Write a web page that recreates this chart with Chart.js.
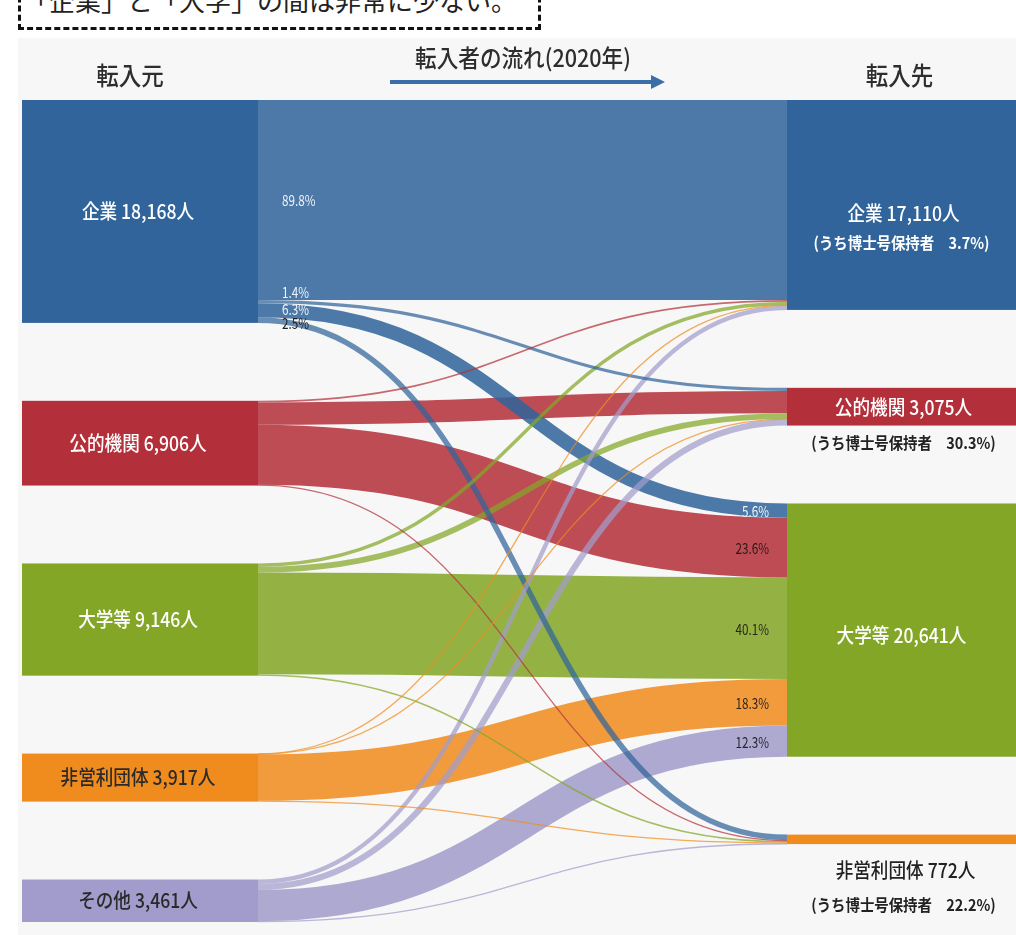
<!DOCTYPE html>
<html lang="ja">
<head>
<meta charset="utf-8">
<script src="https://cdn.jsdelivr.net/npm/chart.js@4"></script>
<style>
  html, body { margin: 0; padding: 0; background: #fff; }
  body { width: 1016px; height: 935px; position: relative; overflow: hidden; font-family: "Noto Sans CJK JP", sans-serif; }
  #note {
    position: absolute; left: 18px; top: -22px; width: 515px; height: 46px;
    border: 3px dashed #111; background: #fff;
    font-size: 26px; line-height: 38px; padding-left: 2px; box-sizing: content-box;
    color: #222; white-space: nowrap; z-index: 2;
  }
  #wrap { position: absolute; left: 18px; top: 38px; width: 998px; height: 897px; background: #f7f7f7; }
</style>
</head>
<body>
<div id="note">「企業」と「大学」の間は非常に少ない。</div>
<div id="wrap"><canvas id="flowChart"></canvas></div>
<script>
// 転入元
const sourceNames = ['企業', '公的機関', '大学等', '非営利団体', 'その他'];
const sourceTotals = [18168, 6906, 9146, 3917, 3461];
// 転入先
const targetNames = ['企業', '公的機関', '大学等', '非営利団体'];
const targetTotals = [17110, 3075, 20641, 772];
const doctorShares = ['3.7%', '30.3%', '', '22.2%'];
// people moving from each source to 企業 / 公的機関 / 大学等 / 非営利団体
const fromCompany   = [16310, 254, 1150, 454];
const fromPublic    = [130, 1826, 4880, 70];
const fromUniv      = [280, 461, 8285, 120];
const fromNonprofit = [35, 30, 3782, 70];
const fromOther     = [355, 504, 2544, 58];
const flowRows = [fromCompany, fromPublic, fromUniv, fromNonprofit, fromOther];

const colors = ['#30649a', '#b3303a', '#84a627', '#f08c1e', '#a19ccb'];
const NODE_GAP = 6350;       // white space between nodes, in people
const LEFT_X = [4, 240];     // node columns on the x scale
const RIGHT_X = [769, 998];

const sum = (arr) => arr.reduce((a, b) => a + b, 0);
const stackStarts = (totals) => {
  let pos = 0;
  return totals.map((t) => { const s = pos; pos += t + NODE_GAP; return s; });
};
const leftStarts = stackStarts(sourceTotals);
const rightStarts = stackStarts(targetTotals);
const span = Math.max(sum(sourceTotals) + (sourceTotals.length - 1) * NODE_GAP,
                      sum(targetTotals) + (targetTotals.length - 1) * NODE_GAP);

const fmt = (n) => n.toLocaleString('en-US');
const pct = (v, total) => (v / total * 100).toFixed(1) + '%';

function rgba(hex, a) {
  const n = parseInt(hex.slice(1), 16);
  return `rgba(${n >> 16}, ${(n >> 8) & 255}, ${n & 255}, ${a})`;
}

function text(ctx, str, x, y, o) {
  ctx.save();
  ctx.font = `${o.weight || 'normal'} ${o.size}px "Noto Sans CJK JP", sans-serif`;
  ctx.fillStyle = o.color;
  ctx.textAlign = o.align || 'center';
  ctx.textBaseline = 'middle';
  ctx.translate(x, y);
  ctx.scale(o.squeeze || 1, 1);
  ctx.fillText(str, 0, 0);
  ctx.restore();
}

// lay out every link: where it leaves its source and where it lands on its target
function buildLinks() {
  const srcOff = sourceTotals.map(() => 0);
  const tgtOff = targetTotals.map(() => 0);
  const links = [];
  flowRows.forEach((row, i) => {
    row.forEach((v, j) => {
      links.push({ i, j, v, s: leftStarts[i] + srcOff[i], t: 0 });
      srcOff[i] += v;
    });
  });
  // incoming order on the target follows the source order
  targetTotals.forEach((_, j) => {
    links.filter((l) => l.j === j).sort((a, b) => a.i - b.i).forEach((l) => {
      l.t = rightStarts[j] + tgtOff[j];
      tgtOff[j] += l.v;
    });
  });
  return links;
}

const sankeyPlugin = {
  id: 'sankey',
  afterDraw(chart) {
    const { ctx, scales: { x, y } } = chart;
    const Y = (v) => y.getPixelForValue(v);
    const links = buildLinks();

    // links, widest underneath
    const x0 = x.getPixelForValue(LEFT_X[1]);
    const x1 = x.getPixelForValue(RIGHT_X[0]);
    const xm = (x0 + x1) / 2;
    [...links].sort((a, b) => b.v - a.v).forEach((l) => {
      const ys = Y(l.s + l.v / 2);
      const yt = Y(l.t + l.v / 2);
      ctx.save();
      ctx.beginPath();
      ctx.moveTo(x0, ys);
      ctx.bezierCurveTo(xm, ys, xm, yt, x1, yt);
      ctx.lineWidth = Math.max(Math.abs(Y(l.v) - Y(0)), 1.3);
      ctx.strokeStyle = rgba(colors[l.i], l.v > 600 ? 0.86 : 0.72);
      ctx.stroke();
      ctx.restore();
    });

    // nodes
    sourceTotals.forEach((t, i) => {
      const xa = x.getPixelForValue(LEFT_X[0]), xb = x.getPixelForValue(LEFT_X[1]);
      ctx.fillStyle = colors[i];
      ctx.fillRect(xa, Y(leftStarts[i]), xb - xa, Y(leftStarts[i] + t) - Y(leftStarts[i]));
    });
    targetTotals.forEach((t, j) => {
      const xa = x.getPixelForValue(RIGHT_X[0]), xb = x.getPixelForValue(RIGHT_X[1]);
      ctx.fillStyle = colors[j];
      ctx.fillRect(xa, Y(rightStarts[j]), xb - xa, Math.max(Y(rightStarts[j] + t) - Y(rightStarts[j]), 1));
    });

    const nodeFont = { size: 20, weight: '500', squeeze: 0.88 };
    const subFont = { size: 16, weight: 'bold', squeeze: 0.9 };

    // source labels
    const lx = (x.getPixelForValue(LEFT_X[0]) + x.getPixelForValue(LEFT_X[1])) / 2;
    sourceNames.forEach((name, i) => {
      const cy = Y(leftStarts[i] + sourceTotals[i] / 2);
      text(ctx, `${name} ${fmt(sourceTotals[i])}人`, lx - 2, cy, {
        ...nodeFont, color: i >= 3 ? '#2a2a2a' : '#fff'
      });
    });

    // target labels
    const rx = (x.getPixelForValue(RIGHT_X[0]) + x.getPixelForValue(RIGHT_X[1])) / 2;
    const main = (j) => `${targetNames[j]} ${fmt(targetTotals[j])}人`;
    const sub = (j) => `(うち博士号保持者　${doctorShares[j]})`;
    const top = (j) => Y(rightStarts[j]);
    const bot = (j) => Y(rightStarts[j] + targetTotals[j]);
    const mid = (j) => (top(j) + bot(j)) / 2;
    text(ctx, main(0), rx + 2, mid(0) + 8, { ...nodeFont, color: '#fff' });
    text(ctx, sub(0), rx, mid(0) + 38, { ...subFont, color: '#fff' });
    text(ctx, main(1), rx + 2, mid(1) + 1, { ...nodeFont, color: '#fff' });
    text(ctx, sub(1), rx + 2, bot(1) + 17, { ...subFont, color: '#222' });
    text(ctx, main(2), rx, mid(2) + 5, { ...nodeFont, color: '#fff' });
    text(ctx, main(3), rx + 4, bot(3) + 26, { ...nodeFont, color: '#222' });
    text(ctx, sub(3), rx + 2, bot(3) + 61, { ...subFont, color: '#222' });

    // shares leaving 企業
    const nudge = [0, -9, -1, 3];
    links.filter((l) => l.i === 0).forEach((l) => {
      text(ctx, pct(l.v, sourceTotals[0]), x0 + 24, Y(l.s + l.v / 2) + nudge[l.j], {
        size: 15, color: l.j === 3 ? '#222' : '#eef3f8', align: 'left', squeeze: 0.78
      });
    });
    // shares arriving at 大学等
    links.filter((l) => l.j === 2).forEach((l) => {
      text(ctx, pct(l.v, targetTotals[2]), x1 - 18, Y(l.t + l.v / 2) + 1, {
        size: 15, color: l.i === 0 ? '#eef3f8' : 'rgba(25,20,20,0.9)', align: 'right', squeeze: 0.78
      });
    });

    // column headers and the flow arrow
    const headFont = { size: 25, color: '#2e2e2e', weight: '500', squeeze: 0.9 };
    text(ctx, '転入元', lx - 10, 37, headFont);
    text(ctx, '転入先', rx - 2, 37, headFont);
    text(ctx, '転入者の流れ(2020年)', 505, 20, { ...headFont, size: 24 });
    ctx.save();
    ctx.strokeStyle = '#3b6ea8';
    ctx.fillStyle = '#3b6ea8';
    ctx.lineWidth = 4;
    ctx.beginPath();
    ctx.moveTo(372, 44);
    ctx.lineTo(636, 44);
    ctx.stroke();
    ctx.beginPath();
    ctx.moveTo(647, 44);
    ctx.lineTo(633, 37);
    ctx.lineTo(633, 51);
    ctx.closePath();
    ctx.fill();
    ctx.restore();
  }
};

document.addEventListener('DOMContentLoaded', () => {
  const config = {
    type: 'scatter',
    data: { datasets: [] },
    options: {
      responsive: true,
      maintainAspectRatio: false,
      animation: false,
      layout: { padding: { top: 62, bottom: 13, left: 0, right: 0 } },
      scales: {
        x: { type: 'linear', min: 0, max: 998, display: false },
        y: { type: 'linear', min: 0, max: span, reverse: true, display: false }
      },
      plugins: { legend: false, tooltip: { enabled: false } }
    },
    plugins: [sankeyPlugin]
  };
  new Chart(document.getElementById('flowChart'), config);
});
</script>
</body>
</html>
